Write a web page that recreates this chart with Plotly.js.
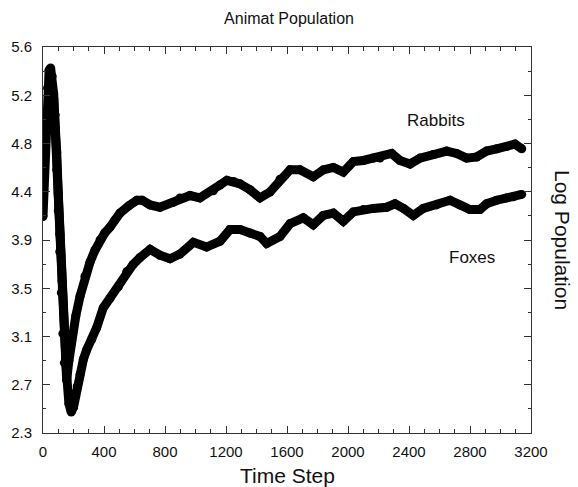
<!DOCTYPE html>
<html>
<head>
<meta charset="utf-8">
<script src="https://cdn.plot.ly/plotly-3.0.1.min.js"></script>
<style>html,body{margin:0;padding:0;background:#fff;}#chart{width:578px;height:487px;}</style>
</head>
<body>
<div id="chart"></div>
<script>
// Rabbits (log population) vs time step
const rabbitT = [0,10,20,30,40,50,60,70,80,90,100,110,120,130,140,155,170,190,215,243,275,308,340,374,405,439,470,505,560,616,650,702,767,852,898,964,1029,1117,1160,1206,1250,1292,1357,1423,1488,1554,1620,1685,1772,1838,1904,1969,2035,2100,2166,2210,2286,2341,2407,2472,2559,2647,2712,2778,2844,2909,2975,3041,3095,3139];
const rabbitV = [4.15,4.5,4.9,5.25,5.40,5.42,5.35,5.2,4.9,4.55,4.2,3.85,3.5,3.15,2.9,2.75,2.92,3.12,3.3,3.47,3.64,3.76,3.86,3.95,4.01,4.06,4.12,4.18,4.24,4.29,4.29,4.25,4.23,4.27,4.31,4.33,4.31,4.37,4.42,4.46,4.45,4.43,4.38,4.31,4.36,4.47,4.55,4.55,4.49,4.55,4.57,4.53,4.62,4.63,4.65,4.65,4.69,4.63,4.60,4.65,4.68,4.71,4.69,4.65,4.66,4.71,4.73,4.75,4.77,4.73];
// Foxes (log population) vs time step
const foxT = [0,20,40,60,70,80,90,100,110,125,140,155,170,185,200,225,243,265,286,320,352,395,439,494,549,590,636,702,767,833,898,986,1073,1161,1226,1292,1357,1423,1467,1554,1620,1707,1772,1838,1904,1969,2035,2100,2166,2253,2308,2363,2428,2494,2581,2669,2734,2800,2865,2909,2975,3041,3084,3139];
const foxV = [4.92,5.0,5.1,5.16,5.15,5.02,4.7,4.35,4.0,3.6,3.15,2.8,2.55,2.48,2.52,2.7,2.8,2.93,3.01,3.1,3.2,3.37,3.45,3.55,3.68,3.74,3.8,3.87,3.82,3.79,3.83,3.93,3.89,3.94,4.04,4.04,4.01,3.98,3.92,3.98,4.09,4.14,4.08,4.16,4.18,4.11,4.19,4.21,4.22,4.23,4.26,4.22,4.16,4.22,4.25,4.29,4.25,4.21,4.21,4.26,4.29,4.31,4.32,4.34];
// Axis ticks
const xTicks = [0,400,800,1200,1600,2000,2400,2800,3200];
const yTickVals = [2.3,2.7125,3.125,3.5375,3.95,4.3625,4.775,5.1875,5.6];
const yTickText = ["2.3","2.7","3.1","3.5","3.9","4.4","4.8","5.2","5.6"];

const font = "Liberation Sans, Arial, Helvetica, sans-serif";
const traceStyle = {mode:'lines+markers', line:{color:'#000', width:9}, marker:{color:'#000', size:9}, hoverinfo:'skip', showlegend:false};

const data = [
  Object.assign({x: rabbitT, y: rabbitV, name:'Rabbits'}, traceStyle),
  Object.assign({x: foxT, y: foxV, name:'Foxes'}, traceStyle)
];

const layout = {
  width:578, height:487,
  margin:{l:43, r:47, t:47, b:54, pad:0},
  paper_bgcolor:'#fff', plot_bgcolor:'#fff',
  font:{family:font, color:'#111', size:15},
  title:{text:'Animat Population', font:{family:font, size:16, color:'#111'}, x:0.5, xanchor:'center', y:1-18/487, yanchor:'middle', yref:'container'},
  xaxis:{range:[0,3200], tickmode:'array', tickvals:xTicks, ticktext:xTicks.map(String),
    ticks:'inside', ticklen:7, tickcolor:'#333', tickwidth:1, ticklabelstandoff:5,
    minor:{tickmode:'linear', tick0:0, dtick:100, ticks:'inside', ticklen:4, tickcolor:'#333', showgrid:false},
    showline:true, linecolor:'#333', linewidth:1, mirror:'ticks', showgrid:false, zeroline:false,
    tickfont:{family:font, size:15, color:'#111'}},
  yaxis:{range:[2.3,5.6], tickmode:'array', tickvals:yTickVals, ticktext:yTickText,
    ticks:'inside', ticklen:7, tickcolor:'#333', tickwidth:1, ticklabelstandoff:7,
    minor:{tickmode:'linear', tick0:2.3, dtick:0.20625, ticks:'inside', ticklen:3, tickcolor:'#333', showgrid:false},
    showline:true, linecolor:'#333', linewidth:1, mirror:'ticks', showgrid:false, zeroline:false,
    tickfont:{family:font, size:15, color:'#111'}},
  annotations:[
    {text:'Time Step', xref:'paper', yref:'paper', x:0.5, y:-42/386, xanchor:'center', yanchor:'middle', showarrow:false, font:{family:font, size:21, color:'#111'}},
    {text:'Log Population', xref:'paper', yref:'paper', x:1+32/488, y:0.5, xanchor:'center', yanchor:'middle', textangle:90, showarrow:false, font:{family:font, size:21, color:'#111'}},
    {text:'Rabbits', xref:'x', yref:'y', x:2577, y:4.97, showarrow:false, font:{family:font, size:17, color:'#111'}},
    {text:'Foxes', xref:'x', yref:'y', x:2816, y:3.80, showarrow:false, font:{family:font, size:17, color:'#111'}}
  ]
};

Plotly.newPlot('chart', data, layout, {staticPlot:true, displayModeBar:false});
</script>
</body>
</html>
